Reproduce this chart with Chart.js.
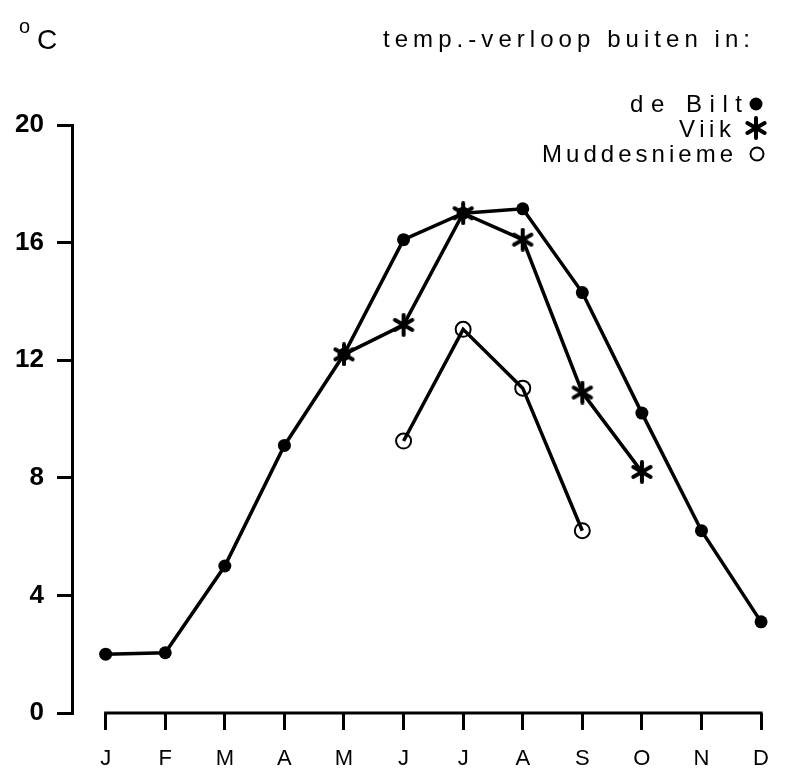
<!DOCTYPE html>
<html>
<head>
<meta charset="utf-8">
<script src="https://cdn.jsdelivr.net/npm/chart.js@4"></script>
<style>
  html, body { margin: 0; padding: 0; background: #fff; }
  canvas { display: block; }
</style>
</head>
<body>
<canvas id="myChart" width="785" height="773"></canvas>
<script>
const months = ["J", "F", "M", "A", "M", "J", "J", "A", "S", "O", "N", "D"];
const yTicks = [0, 4, 8, 12, 16, 20];

// temperature per month, degrees C
const deBilt = [2.0, 2.05, 5.0, 9.1, 12.2, 16.1, 17.0, 17.15, 14.3, 10.2, 6.2, 3.1];
const viik = [null, null, null, null, 12.2, 13.2, 17.0, 16.1, 10.9, 8.2, null, null];
const muddesnieme = [null, null, null, null, null, 9.25, 13.05, 11.05, 6.2, null, null, null];

const seriesNames = ["de Bilt", "Viik", "Muddesnieme"];
const headerText = "temp.-verloop buiten in:";

const FONT = '"Liberation Sans", Arial, Helvetica, sans-serif';

function makeStar(size, lw) {
  const c = document.createElement("canvas");
  c.width = c.height = size;
  const g = c.getContext("2d");
  g.strokeStyle = "#000";
  g.lineWidth = lw;
  g.lineCap = "round";
  g.translate(size / 2, size / 2);
  const r = size / 2 - lw / 2;
  [90, 30, -30].forEach(a => {
    const t = a * Math.PI / 180;
    g.beginPath();
    g.moveTo(-r * Math.cos(t), -r * Math.sin(t));
    g.lineTo(r * Math.cos(t), r * Math.sin(t));
    g.stroke();
  });
  return c;
}
const star = makeStar(24, 4);

// draws text stretched to a given width (the original is letter-spaced)
function spacedText(ctx, text, xRight, yBase, width) {
  ctx.letterSpacing = "0px";
  const w = ctx.measureText(text).width;
  const ls = (width - w) / Math.max(1, text.length - 1);
  ctx.letterSpacing = ls + "px";
  ctx.textAlign = "left";
  ctx.fillText(text, xRight - width, yBase);
  ctx.letterSpacing = "0px";
}

const extras = {
  id: "extras",
  afterDraw(chart) {
    const { ctx, scales: { x, y } } = chart;
    ctx.save();
    ctx.strokeStyle = "#000";
    ctx.fillStyle = "#000";

    // detached x axis line, from J to D
    const y0 = y.getPixelForValue(0);
    ctx.lineWidth = 3;
    ctx.beginPath();
    ctx.moveTo(x.getPixelForValue(0) - 1.5, y0);
    ctx.lineTo(x.getPixelForValue(months.length - 1) + 1.5, y0);
    ctx.stroke();

    // unit
    ctx.textBaseline = "alphabetic";
    ctx.textAlign = "left";
    ctx.font = "20px " + FONT;
    ctx.fillText("o", 19, 33);
    ctx.font = "28px " + FONT;
    ctx.fillText("C", 37, 49);

    // header and legend
    ctx.font = "24px " + FONT;
    spacedText(ctx, headerText, 750, 47, 367);
    spacedText(ctx, seriesNames[0], 742, 112, 112);
    spacedText(ctx, seriesNames[1], 731, 137, 52);
    spacedText(ctx, seriesNames[2], 733, 162, 191);

    ctx.beginPath();
    ctx.arc(756, 104, 6.5, 0, Math.PI * 2);
    ctx.fill();
    ctx.drawImage(star, 756 - 12, 128 - 12);
    ctx.lineWidth = 2;
    ctx.beginPath();
    ctx.arc(757, 154, 6.5, 0, Math.PI * 2);
    ctx.stroke();
    ctx.restore();
  }
};

const config = {
  type: "line",
  data: {
    labels: months.map((m, i) => i),
    datasets: [
      {
        label: seriesNames[1],
        data: viik.map((v, i) => ({ x: i, y: v })),
        borderColor: "#000",
        borderWidth: 3.5,
        pointStyle: star,
        pointRadius: 12,
        tension: 0,
        clip: false,
      },
      {
        label: seriesNames[0],
        data: deBilt.map((v, i) => ({ x: i, y: v })),
        borderColor: "#000",
        borderWidth: 3.5,
        pointStyle: "circle",
        pointRadius: 6.5,
        pointBackgroundColor: "#000",
        pointBorderWidth: 0,
        tension: 0,
        clip: false,
      },
      {
        label: seriesNames[2],
        data: muddesnieme.map((v, i) => ({ x: i, y: v })),
        borderColor: "#000",
        borderWidth: 3.5,
        pointStyle: "circle",
        pointRadius: 7.5,
        pointBackgroundColor: "rgba(0,0,0,0)",
        pointBorderColor: "#000",
        pointBorderWidth: 2,
        tension: 0,
        clip: false,
      },
    ],
  },
  options: {
    responsive: false,
    animation: false,
    layout: { autoPadding: false, padding: { top: 125, right: 17, bottom: 0, left: 0 } },
    plugins: {
      legend: { display: false },
      tooltip: { enabled: false },
    },
    scales: {
      x: {
        type: "linear",
        min: -0.565,
        max: 11,
        afterBuildTicks: s => { s.ticks = months.map((m, i) => ({ value: i })); },
        afterFit: s => { s.height = 60; },
        border: { display: false },
        grid: { drawOnChartArea: false, drawTicks: true, tickLength: 17, lineWidth: 3, color: "#000" },
        ticks: {
          callback: v => months[v],
          color: "#000",
          font: { family: FONT, size: 22 },
          padding: 16,
          maxRotation: 0,
          autoSkip: false,
        },
      },
      y: {
        min: 0,
        max: 20,
        afterBuildTicks: s => { s.ticks = yTicks.map(v => ({ value: v })); },
        afterFit: s => { s.width = 72; },
        border: { display: true, color: "#000", width: 3 },
        grid: { drawOnChartArea: false, drawTicks: true, tickLength: 15, lineWidth: 3, color: "#000" },
        ticks: {
          color: "#000",
          font: { family: FONT, size: 26, weight: "bold" },
          padding: 13,
        },
      },
    },
  },
  plugins: [extras],
};

new Chart(document.getElementById("myChart").getContext("2d"), config);
</script>
</body>
</html>
